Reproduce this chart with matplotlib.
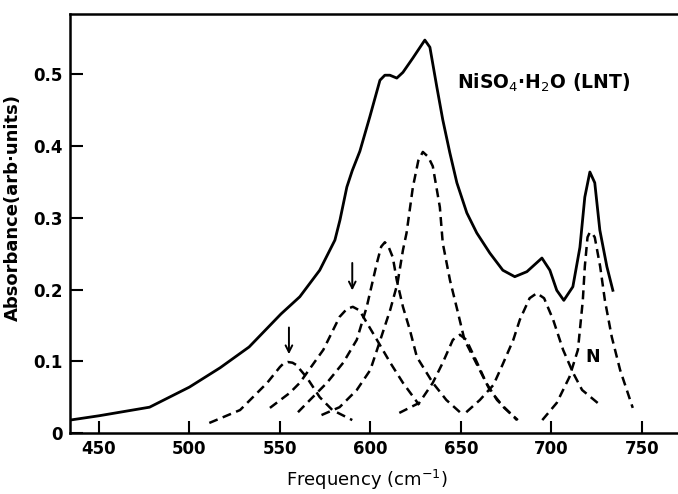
import matplotlib
matplotlib.use("Agg")
import matplotlib.pyplot as plt

# Measured spectrum (solid line)
freq = [434, 450, 478, 500, 517, 533, 550.6, 561, 572, 580.4, 583.2, 587, 590, 594.2,
        599.7, 605.3, 608, 610.8, 614.6, 618, 623.5, 630.1, 632.9, 636.7, 640, 643.9,
        647.8, 653.3, 658.8, 666, 673.2, 679.8, 686.5, 694.8, 699.2, 703, 706.9, 711.9,
        715.8, 718.5, 721.3, 724, 726.8, 730.7, 734]
absorb = [0.018, 0.024, 0.036, 0.064, 0.091, 0.12, 0.166, 0.19, 0.227, 0.269, 0.297, 0.343,
          0.366, 0.393, 0.441, 0.492, 0.499, 0.499, 0.495, 0.503, 0.523, 0.548, 0.538,
          0.483, 0.437, 0.391, 0.349, 0.307, 0.279, 0.251, 0.227, 0.218, 0.225, 0.244,
          0.227, 0.199, 0.185, 0.204, 0.259, 0.329, 0.364, 0.349, 0.283, 0.232, 0.199]

# Fitted component bands (dashed)
band_a_x = [511, 528, 543, 550, 552, 554.4, 557, 559, 565, 572, 579, 590]
band_a_y = [0.014, 0.032, 0.07, 0.092, 0.097, 0.099, 0.098, 0.095, 0.077, 0.05, 0.032, 0.018]

band_b_x = [544.5, 555.5, 561, 574, 583, 587, 590.3, 594, 603.6, 611, 618, 627]
band_b_y = [0.035, 0.056, 0.07, 0.116, 0.162, 0.173, 0.176, 0.171, 0.13, 0.098, 0.07, 0.039]

band_c_x = [560, 566.6, 576, 585, 592.5, 598, 603.6, 606, 608, 610, 612.4, 614.6, 618,
            621.8, 625.7, 634.5, 642, 649.5]
band_c_y = [0.029, 0.046, 0.07, 0.098, 0.13, 0.176, 0.237, 0.26, 0.266, 0.26, 0.245, 0.213,
            0.176, 0.144, 0.106, 0.07, 0.046, 0.029]

band_d_x = [573, 583, 592.5, 600, 605, 611, 615, 618, 620, 623.5, 626.5, 629, 632, 634.5,
            638.4, 640, 644, 648, 652, 659, 666, 674, 681.5]
band_d_y = [0.025, 0.036, 0.06, 0.088, 0.126, 0.172, 0.209, 0.255, 0.279, 0.343, 0.38,
            0.392, 0.385, 0.372, 0.315, 0.265, 0.213, 0.172, 0.13, 0.095, 0.06, 0.035, 0.018]

band_e_x = [616, 627, 634.5, 640, 645.6, 649.5, 653, 659, 664, 670, 681]
band_e_y = [0.028, 0.042, 0.07, 0.098, 0.13, 0.137, 0.13, 0.098, 0.07, 0.046, 0.018]

band_f_x = [653, 660.5, 668, 673, 679, 682.6, 688, 692, 696, 701, 706.5, 712, 717, 727]
band_f_y = [0.029, 0.046, 0.067, 0.095, 0.13, 0.158, 0.188, 0.195, 0.188, 0.158, 0.116,
            0.084, 0.06, 0.039]

band_g_x = [695, 703, 710, 714.7, 717.4, 718.5, 720, 721.3, 722.7, 724, 727, 729.6, 733.4,
            738, 745]
band_g_y = [0.018, 0.042, 0.078, 0.116, 0.185, 0.232, 0.273, 0.28, 0.278, 0.273, 0.232,
            0.185, 0.134, 0.088, 0.035]

bands = [(band_a_x, band_a_y), (band_b_x, band_b_y), (band_c_x, band_c_y),
         (band_d_x, band_d_y), (band_e_x, band_e_y), (band_f_x, band_f_y),
         (band_g_x, band_g_y)]

arrow_pos = [555, 590]
arrow_top = [0.151, 0.241]
arrow_tip = [0.106, 0.195]

xticks = [450, 500, 550, 600, 650, 700, 750]
yticks = [0, 0.1, 0.2, 0.3, 0.4, 0.5]
ytick_labels = ["0", "0.1", "0.2", "0.3", "0.4", "0.5"]

fig = plt.figure(figsize=(6.78, 4.94), dpi=100)
ax = fig.add_axes([0.1032, 0.1235, 0.8968, 0.8482])

ax.plot(freq, absorb, color="black", lw=2.0, solid_joinstyle="round")
for bx, by in bands:
    ax.plot(bx, by, color="black", lw=1.8, dashes=(3.6, 2.2))

for xp, yt, yh in zip(arrow_pos, arrow_top, arrow_tip):
    ax.annotate("", xy=(xp, yh), xytext=(xp, yt),
                arrowprops=dict(arrowstyle="->", color="black", lw=1.4,
                                mutation_scale=12))

ax.text(648, 0.488, "NiSO$_4$·H$_2$O (LNT)", fontsize=13.5, fontweight="bold",
        va="center", ha="left")
ax.text(723, 0.106, "N", fontsize=12.5, fontweight="bold", va="center", ha="center")

ax.set_xlim(434, 770)
ax.set_ylim(0, 0.5844)
ax.set_xticks(xticks)
ax.set_yticks(yticks)
ax.set_yticklabels(ytick_labels)
ax.tick_params(direction="in", length=9, width=1.5, labelsize=12, pad=5)
for lab in ax.get_xticklabels() + ax.get_yticklabels():
    lab.set_fontweight("bold")

for s in ["left", "bottom", "top"]:
    ax.spines[s].set_linewidth(1.8)
ax.spines["right"].set_visible(False)

ax.set_xlabel("Frequency (cm$^{-1}$)", fontsize=13)
ax.xaxis.set_label_coords(0.488, -0.083)
ax.set_ylabel("Absorbance(arb·units)", fontsize=13, fontweight="bold")
ax.yaxis.set_label_coords(-0.079, 0.537)

fig.savefig("out.png", dpi=100)
